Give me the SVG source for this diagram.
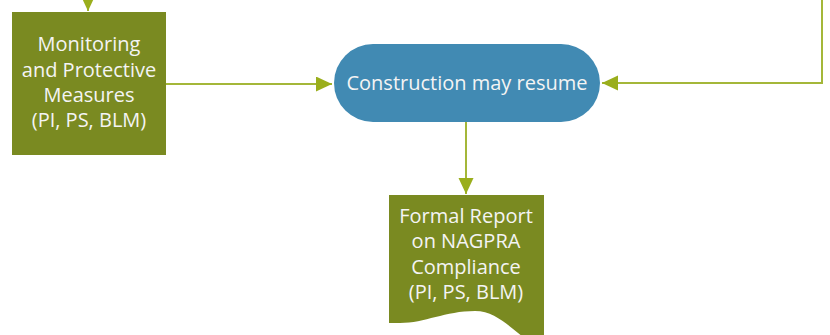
<svg xmlns="http://www.w3.org/2000/svg" width="830" height="335" viewBox="0 0 830 335">
<style>
.conn{fill:none;stroke:#A4B739;stroke-width:2}
.green{fill:#7A8A21}
.blue{fill:#418AB3}
.t{font-family:"Open Sans","Noto Sans",sans-serif;fill:#F4F4F4;text-anchor:middle}
.t1{font-size:20px}
.t2{font-size:20px}
</style>
<defs>
<marker id="ah" markerUnits="userSpaceOnUse" markerWidth="17" markerHeight="16" refX="16" refY="7.5" orient="auto">
<path d="M0,0 L16,7.5 L0,15 Z" fill="#9AAE1C"/>
</marker>
</defs>
<g id="connectors">
<path class="conn" d="M88,0 V11" marker-end="url(#ah)"/>
<path class="conn" d="M166,84 H332" marker-end="url(#ah)"/>
<path class="conn" d="M822,0 V83 H602" marker-end="url(#ah)"/>
<path class="conn" d="M466,122 V194" marker-end="url(#ah)"/>
</g>
<g id="monitoring">
<rect class="green" x="12" y="12" width="154" height="143"/>
<text class="t t1" x="89" y="51">Monitoring</text>
<text class="t t1" x="89" y="76.5">and Protective</text>
<text class="t t1" x="89" y="102">Measures</text>
<text class="t t1" x="89" y="127">(PI, PS, BLM)</text>
</g>
<g id="construction">
<rect class="blue" x="334" y="44" width="266" height="78" rx="39" ry="39"/>
<text class="t t2" x="467" y="90">Construction may resume</text>
</g>
<g id="report">
<path class="green" d="M389,195 H544 V345 C520,345 505,311 475,311 C445,311 425,323 400,323 H389 Z"/>
<text class="t t1" x="466" y="222.5">Formal Report</text>
<text class="t t1" x="466" y="248">on NAGPRA</text>
<text class="t t1" x="466" y="273.5">Compliance</text>
<text class="t t1" x="466" y="299">(PI, PS, BLM)</text>
</g>
</svg>
